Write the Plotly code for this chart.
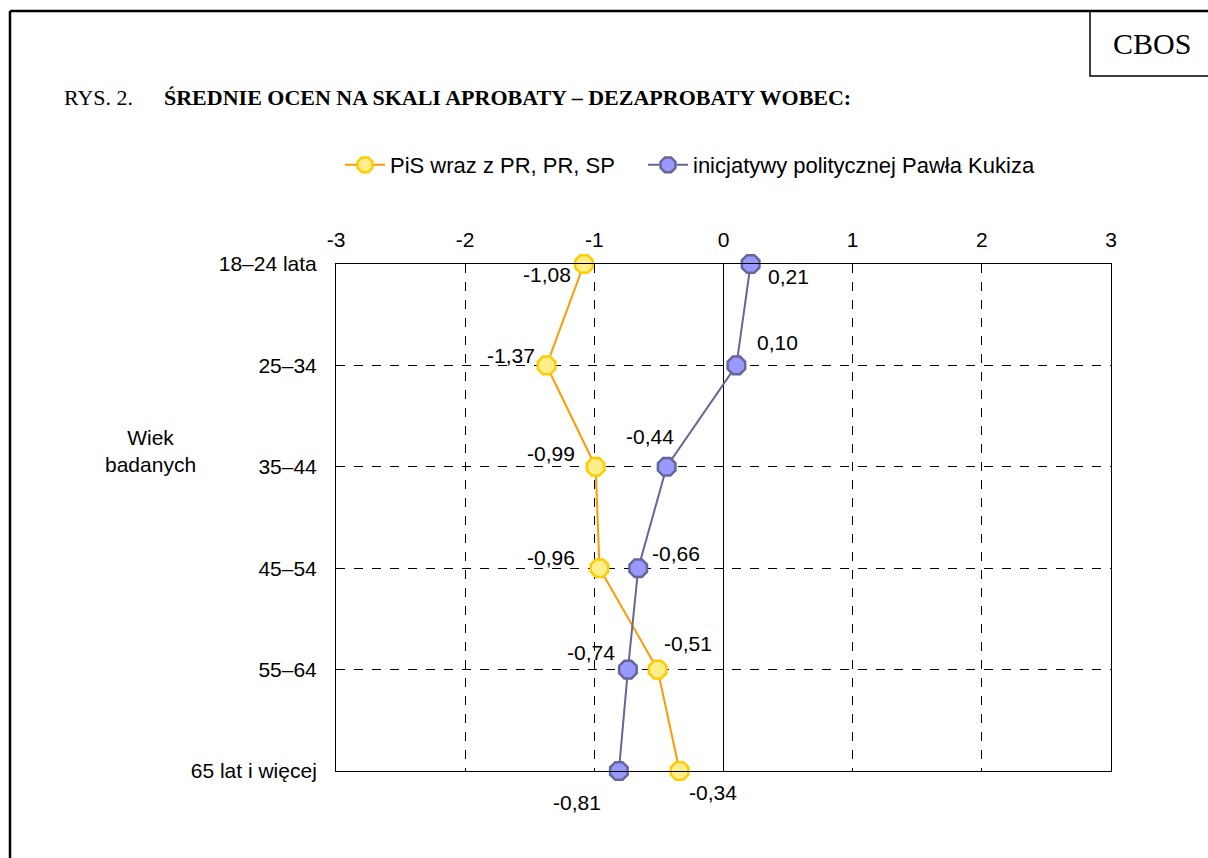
import plotly.graph_objects as go

# ---- data ----
categories = ["18–24 lata", "25–34", "35–44", "45–54", "55–64", "65 lat i więcej"]
pis_values = [-1.08, -1.37, -0.99, -0.96, -0.51, -0.34]
kukiz_values = [0.21, 0.10, -0.44, -0.66, -0.74, -0.81]
pis_labels = ["-1,08", "-1,37", "-0,99", "-0,96", "-0,51", "-0,34"]
kukiz_labels = ["0,21", "0,10", "-0,44", "-0,66", "-0,74", "-0,81"]
series_names = ["PiS wraz z PR, PR, SP", "inicjatywy politycznej Pawła Kukiza"]
x_ticks = [-3, -2, -1, 0, 1, 2, 3]

# ---- layout geometry (pixels) ----
W, H = 1208, 858
L, R, T, B = 336, 1111, 264, 771


def px(x):
    return (x - L) / (R - L)


def py(y):
    return (B - y) / (B - T)


ypos = list(range(len(categories)))

SANS = "Liberation Sans, Arial, sans-serif"
SERIF = "Liberation Serif, Times New Roman, serif"
FS = 21

fig = go.Figure()
fig.add_trace(go.Scatter(
    x=pis_values, y=ypos, mode="lines+markers", name=series_names[0],
    line=dict(color="#FF9900", width=2), cliponaxis=False, legend="legend",
    marker=dict(symbol="octagon", size=19, color="#FFEE8C",
                line=dict(color="#FFCC00", width=2.5)),
))
fig.add_trace(go.Scatter(
    x=kukiz_values, y=ypos, mode="lines+markers", name=series_names[1],
    line=dict(color="#666699", width=2), cliponaxis=False, legend="legend2",
    marker=dict(symbol="octagon", size=19, color="#9999FF",
                line=dict(color="#666699", width=2.5)),
))

# label offsets (dx, dy) in pixels, dy positive = down
pis_off = [(-37, 10), (-36, -10), (-45, -13), (-49, -11), (30, -26), (33, 21)]
kuk_off = [(38, 12), (41, -23), (-17, -30), (38, -15), (-37, -17), (-42, 31)]

annotations = []
for vals, labs, offs in ((pis_values, pis_labels, pis_off), (kukiz_values, kukiz_labels, kuk_off)):
    for v, yv, lab, (dx, dy) in zip(vals, ypos, labs, offs):
        annotations.append(dict(x=v, y=yv, xref="x", yref="y", text=lab, showarrow=False,
                                xshift=dx, yshift=-dy,
                                font=dict(family=SANS, size=FS, color="black")))

# title
annotations.append(dict(x=px(62), y=py(97), xref="paper", yref="paper", text="RYS. 2.",
                        showarrow=False, xanchor="left", yanchor="middle",
                        font=dict(family=SERIF, size=22, color="black")))
annotations.append(dict(x=px(162), y=py(97), xref="paper", yref="paper",
                        text="<b>ŚREDNIE OCEN NA SKALI APROBATY – DEZAPROBATY WOBEC:</b>",
                        showarrow=False, xanchor="left", yanchor="middle",
                        font=dict(family=SERIF, size=22, color="black")))
# CBOS
annotations.append(dict(x=px(1152), y=py(43), xref="paper", yref="paper", text="CBOS",
                        showarrow=False, xanchor="center", yanchor="middle",
                        font=dict(family=SERIF, size=30, color="black")))
# y-axis title
annotations.append(dict(x=px(150), y=py(451), xref="paper", yref="paper",
                        text="Wiek<br>badanych", showarrow=False,
                        xanchor="center", yanchor="middle",
                        font=dict(family=SANS, size=FS, color="black")))

shapes = [
    # outer frame
    dict(type="line", xref="paper", yref="paper", x0=px(10), x1=px(1215), y0=py(11), y1=py(11),
         line=dict(color="black", width=2.5)),
    dict(type="line", xref="paper", yref="paper", x0=px(10), x1=px(10), y0=py(11), y1=py(870),
         line=dict(color="black", width=2.5)),
    # CBOS box
    dict(type="rect", xref="paper", yref="paper", x0=px(1090), x1=px(1215), y0=py(11), y1=py(76),
         line=dict(color="black", width=1.5)),
]

legend_common = dict(orientation="h", xanchor="left", yanchor="middle",
                     font=dict(family=SANS, size=22, color="black"),
                     itemwidth=40, bgcolor="rgba(0,0,0,0)")

fig.update_layout(
    width=W, height=H,
    margin=dict(l=L, r=W - R, t=T, b=H - B, pad=0),
    paper_bgcolor="white", plot_bgcolor="white",
    showlegend=True,
    legend=dict(x=px(340), y=py(165), **legend_common),
    legend2=dict(x=px(643), y=py(165), **legend_common),
    annotations=annotations,
    shapes=shapes,
    xaxis=dict(range=[-3, 3], side="top", tickvals=x_ticks, ticktext=[str(t) for t in x_ticks],
               showgrid=True, gridcolor="black", griddash="dash", gridwidth=1,
               zeroline=True, zerolinecolor="black", zerolinewidth=1,
               showline=True, linecolor="black", linewidth=1, mirror=True,
               ticks="", ticklabelstandoff=8,
               tickfont=dict(family=SANS, size=FS, color="black")),
    yaxis=dict(range=[len(categories) - 1, 0], tickvals=ypos, ticktext=categories,
               showgrid=True, gridcolor="black", griddash="dash", gridwidth=1,
               zeroline=False,
               showline=True, linecolor="black", linewidth=1, mirror=True,
               ticks="inside", ticklen=8, tickcolor="black", ticklabelstandoff=14,
               tickfont=dict(family=SANS, size=FS, color="black")),
    font=dict(family=SANS, color="black"),
)

fig.write_html("out.html", config={"displayModeBar": False},
               post_script="document.body.style.margin='0';")
